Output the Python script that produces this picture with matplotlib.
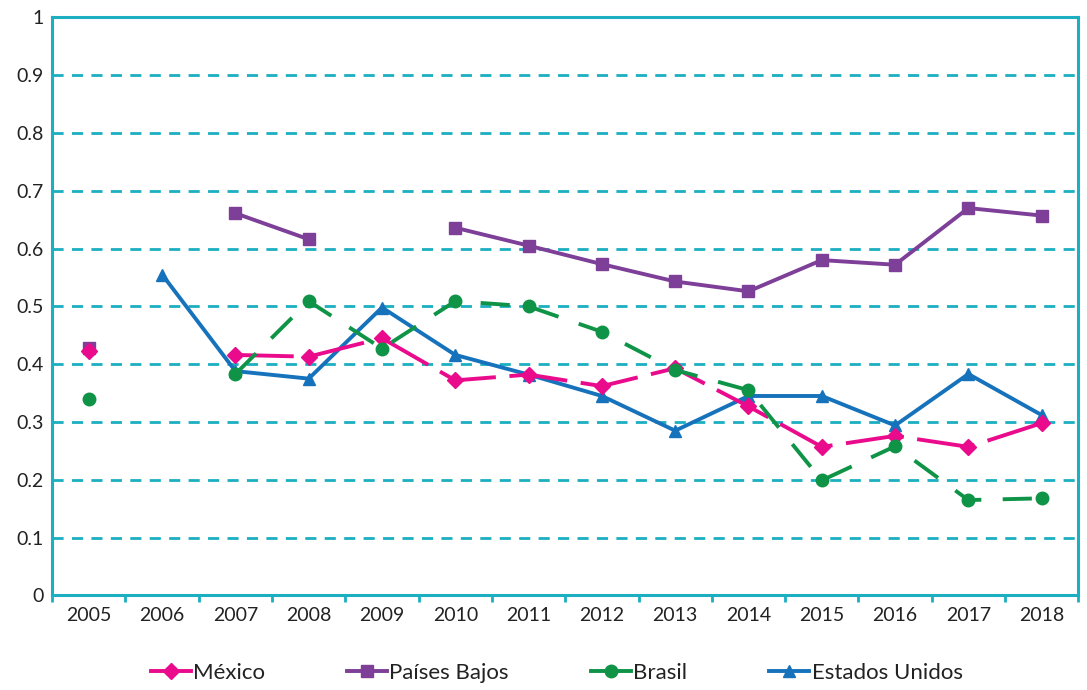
import numpy as np
import matplotlib.pyplot as plt
from matplotlib.lines import Line2D

# data, NaN = no value
years = ['2005', '2006', '2007', '2008', '2009', '2010', '2011',
         '2012', '2013', '2014', '2015', '2016', '2017', '2018']
mexico = [0.423, np.nan, 0.416, 0.413, 0.445, 0.372, 0.382,
          0.362, 0.393, 0.327, 0.257, 0.276, 0.257, 0.298]
paises_bajos = [0.428, np.nan, 0.661, 0.616, np.nan, 0.636, 0.605,
                0.573, 0.543, 0.526, 0.580, 0.572, 0.670, 0.657]
brasil = [0.340, np.nan, 0.383, 0.509, 0.427, 0.509, 0.500,
          0.456, 0.390, 0.355, 0.199, 0.258, 0.165, 0.168]
estados_unidos = [np.nan, 0.555, 0.388, 0.375, 0.498, 0.416, 0.382,
                  0.345, 0.285, 0.345, 0.345, 0.294, 0.383, 0.312]

teal = '#1BAFC1'
c_mex = '#EA0A8C'
c_nl = '#7D3F98'
c_br = '#0F9447'
c_us = '#1672BB'

plt.rcParams['font.family'] = ['Lato', 'DejaVu Sans']

fig = plt.figure(figsize=(10.87, 6.90), dpi=100)
ax = fig.add_axes([0.048, 0.137, 0.944, 0.838])

x = np.arange(len(years))
lw = 2.8

ax.plot(x, paises_bajos, color=c_nl, lw=lw, marker='s', ms=8, zorder=3)
ax.plot(x, estados_unidos, color=c_us, lw=lw, marker='^', ms=9, zorder=4)
ax.plot(x, mexico, color=c_mex, lw=lw, marker='D', ms=8, zorder=5,
        dashes=(15, 3.5))
ax.plot(x, brasil, color=c_br, lw=lw, marker='o', ms=9, zorder=6,
        dashes=(7.5, 5.5))

ax.set_xlim(-0.5, len(years) - 0.5)
ax.set_ylim(0, 1)

ax.set_yticks(np.arange(0, 1.01, 0.1))
ax.set_yticklabels(['0', '0.1', '0.2', '0.3', '0.4', '0.5', '0.6',
                    '0.7', '0.8', '0.9', '1'])
ax.set_xticks(x)
ax.set_xticklabels(years)
ax.set_xticks(np.arange(-0.5, len(years)), minor=True)
ax.tick_params(axis='x', which='major', length=0, labelsize=14, pad=8,
               colors='#222222')
ax.tick_params(axis='x', which='minor', length=5, width=2, color=teal)
ax.tick_params(axis='y', length=0, labelsize=14, pad=6, colors='#222222')

for s in ax.spines.values():
    s.set_color(teal)
    s.set_linewidth(2.2)

# dashed grid lines
for v in np.arange(0.1, 0.95, 0.1):
    ax.axhline(v, color=teal, lw=2, dashes=(4, 3), zorder=1)

handles = [
    Line2D([], [], color=c_mex, lw=lw, marker='D', ms=8),
    Line2D([], [], color=c_nl, lw=lw, marker='s', ms=8),
    Line2D([], [], color=c_br, lw=lw, marker='o', ms=9),
    Line2D([], [], color=c_us, lw=lw, marker='^', ms=9),
]
labels = ['México', 'Países Bajos', 'Brasil', 'Estados Unidos']
fig.legend(handles, labels, loc='center', bbox_to_anchor=(0.512, 0.025),
           ncol=4, frameon=False, fontsize=16, handlelength=1.8,
           handletextpad=0.1, columnspacing=3.7, labelcolor='#222222')

fig.savefig('out.png', dpi=100)
